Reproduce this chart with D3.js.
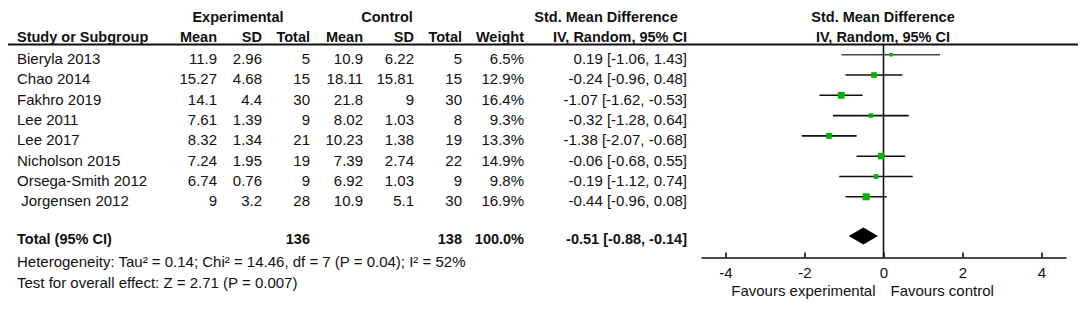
<!DOCTYPE html>
<html lang="en">

<head>
    <meta charset="utf-8">
    <script src='https://d3js.org/d3.v7.min.js'></script>
    <style>
        body { margin: 0; background: #fff; }
        text { font-family: "Liberation Sans", Arial, sans-serif; fill: #111; white-space: pre; }
    </style>
</head>

<body>

    <script>

        // study data
        const studies = ["Bieryla 2013", "Chao 2014", "Fakhro 2019", "Lee 2011", "Lee 2017",
            "Nicholson 2015", "Orsega-Smith 2012", " Jorgensen 2012"];
        const expMean = [11.9, 15.27, 14.1, 7.61, 8.32, 7.24, 6.74, 9];
        const expSD = [2.96, 4.68, 4.4, 1.39, 1.34, 1.95, 0.76, 3.2];
        const expN = [5, 15, 30, 9, 21, 19, 9, 28];
        const ctlMean = [10.9, 18.11, 21.8, 8.02, 10.23, 7.39, 6.92, 10.9];
        const ctlSD = [6.22, 15.81, 9, 1.03, 1.38, 2.74, 1.03, 5.1];
        const ctlN = [5, 15, 30, 8, 19, 22, 9, 30];
        const weight = [6.5, 12.9, 16.4, 9.3, 13.3, 14.9, 9.8, 16.9];
        const smd = [0.19, -0.24, -1.07, -0.32, -1.38, -0.06, -0.19, -0.44];
        const ciLow = [-1.06, -0.96, -1.62, -1.28, -2.07, -0.68, -1.12, -0.96];
        const ciHigh = [1.43, 0.48, -0.53, 0.64, -0.68, 0.55, 0.74, 0.08];

        const totalExpN = 136;
        const totalCtlN = 138;
        const totalWeight = 100.0;
        const pooled = [-0.51, -0.88, -0.14];   // estimate, low, high
        const tickValues = [-4, -2, 0, 2, 4];

        const heterogeneity = "Heterogeneity: Tau\u00b2 = 0.14; Chi\u00b2 = 14.46, df = 7 (P = 0.04); I\u00b2 = 52%";
        const overall = "Test for overall effect: Z = 2.71 (P = 0.007)";

        const width = 1084, height = 311;
        const fs = 15, fsBold = 14.5;

        const svg = d3.select("body").append("svg")
            .attr("width", width)
            .attr("height", height);

        // plain hyphen for minus, like the original
        const fmt = d => d.toFixed(2);
        const ciText = (m, l, h) => fmt(m) + " [" + fmt(l) + ", " + fmt(h) + "]";

        // row positions
        const y = d3.scaleLinear().domain([0, studies.length - 1]).range([54.7, 196.8]);
        const yTotal = 236;
        const textShift = 9.4;

        // x of the forest plot
        const x = d3.scaleLinear().domain([-4.62, 4.62]).range([701, 1066]);

        // column right edges for the table
        const cols = [
            { x: 217, vals: expMean },
            { x: 262, vals: expSD },
            { x: 310, vals: expN },
            { x: 363, vals: ctlMean },
            { x: 414, vals: ctlSD },
            { x: 462, vals: ctlN },
            { x: 524, vals: weight.map(w => w.toFixed(1) + "%") },
            { x: 687, vals: smd.map((m, i) => ciText(m, ciLow[i], ciHigh[i])) }
        ];

        // headers
        function bold(t, xx, yy, anchor) {
            return svg.append("text").attr("x", xx).attr("y", yy)
                .attr("text-anchor", anchor || "start")
                .style("font-size", fsBold + "px").style("font-weight", "bold")
                .text(t);
        }
        bold("Experimental", 238, 21.5, "middle");
        bold("Control", 387, 21.5, "middle");
        bold("Std. Mean Difference", 606, 21.5, "middle");
        bold("Std. Mean Difference", 883, 21.5, "middle");
        bold("Study or Subgroup", 17, 42);
        ["Mean", "SD", "Total", "Mean", "SD", "Total", "Weight"].forEach((h, i) => bold(h, cols[i].x, 42, "end"));
        bold("IV, Random, 95% CI", 687, 42, "end");
        bold("IV, Random, 95% CI", 883, 42, "middle");

        svg.append("line")
            .attr("x1", 8).attr("x2", 1078)
            .attr("y1", 44.5).attr("y2", 44.5)
            .attr("stroke", "#111").attr("stroke-width", 1.8);

        // study rows
        const rows = svg.selectAll("g.row")
            .data(studies)
            .enter()
            .append("g")
            .attr("class", "row")
            .attr("transform", (d, i) => "translate(0," + (y(i) + textShift) + ")");

        rows.append("text")
            .attr("x", 17)
            .style("font-size", fs + "px")
            .text(d => d);

        cols.forEach(c => {
            rows.append("text")
                .attr("x", c.x)
                .attr("text-anchor", "end")
                .style("font-size", fs + "px")
                .text((d, i) => c.vals[i]);
        });

        // total row
        bold("Total (95% CI)", 17, yTotal + 8);
        bold(totalExpN, 310, yTotal + 8, "end");
        bold(totalCtlN, 462, yTotal + 8, "end");
        bold(totalWeight.toFixed(1) + "%", 524, yTotal + 8, "end");
        bold(ciText(pooled[0], pooled[1], pooled[2]), 687, yTotal + 8, "end");

        svg.append("text").attr("x", 17).attr("y", 266.5)
            .style("font-size", fs + "px").text(heterogeneity);
        svg.append("text").attr("x", 17).attr("y", 287.5)
            .style("font-size", fs + "px").text(overall);

        // forest plot
        const axisY = 257.5;

        svg.append("line")
            .attr("x1", x(0)).attr("x2", x(0))
            .attr("y1", 44.5).attr("y2", axisY)
            .attr("stroke", "#111").attr("stroke-width", 1.6);

        const size = d3.scaleLinear().domain([6.5, 16.9]).range([3.6, 7]);

        const forest = svg.selectAll("g.study")
            .data(smd)
            .enter()
            .append("g")
            .attr("class", "study");

        forest.append("line")
            .attr("x1", (d, i) => x(ciLow[i]))
            .attr("x2", (d, i) => x(ciHigh[i]))
            .attr("y1", (d, i) => y(i))
            .attr("y2", (d, i) => y(i))
            .attr("stroke", (d, i) => i === 0 ? "#444" : "#111")
            .attr("stroke-width", 1.6);

        forest.append("rect")
            .attr("x", (d, i) => x(d) - size(weight[i]) / 2)
            .attr("y", (d, i) => y(i) - size(weight[i]) / 2)
            .attr("width", (d, i) => size(weight[i]))
            .attr("height", (d, i) => size(weight[i]))
            .attr("fill", "#00b400");

        // pooled diamond
        svg.append("path")
            .attr("d", "M" + x(pooled[1]) + "," + yTotal +
                "L" + x(pooled[0]) + "," + (yTotal - 8.5) +
                "L" + x(pooled[2]) + "," + yTotal +
                "L" + x(pooled[0]) + "," + (yTotal + 8.5) + "Z")
            .attr("fill", "#000");

        // axis with ticks pointing up
        const xAxis = d3.axisBottom(x)
            .tickValues(tickValues)
            .tickFormat(d => d < 0 ? "-" + Math.abs(d) : String(d))
            .tickSizeInner(-5)
            .tickSizeOuter(0)
            .tickPadding(10);

        const ax = svg.append("g")
            .attr("transform", "translate(0," + axisY + ")")
            .call(xAxis);
        ax.select(".domain").attr("stroke", "#111").attr("stroke-width", 1.6);
        ax.selectAll(".tick line").attr("stroke", "#111").attr("stroke-width", 1.6);
        ax.selectAll(".tick text")
            .style("font-size", fs + "px")
            .style("font-family", "'Liberation Sans', Arial, sans-serif")
            .attr("fill", "#111");

        svg.append("text").attr("x", x(0) - 8).attr("y", 296)
            .attr("text-anchor", "end")
            .style("font-size", fs + "px").text("Favours experimental");
        svg.append("text").attr("x", x(0) + 7).attr("y", 296)
            .style("font-size", fs + "px").text("Favours control");

    </script>

</body>

</html>
